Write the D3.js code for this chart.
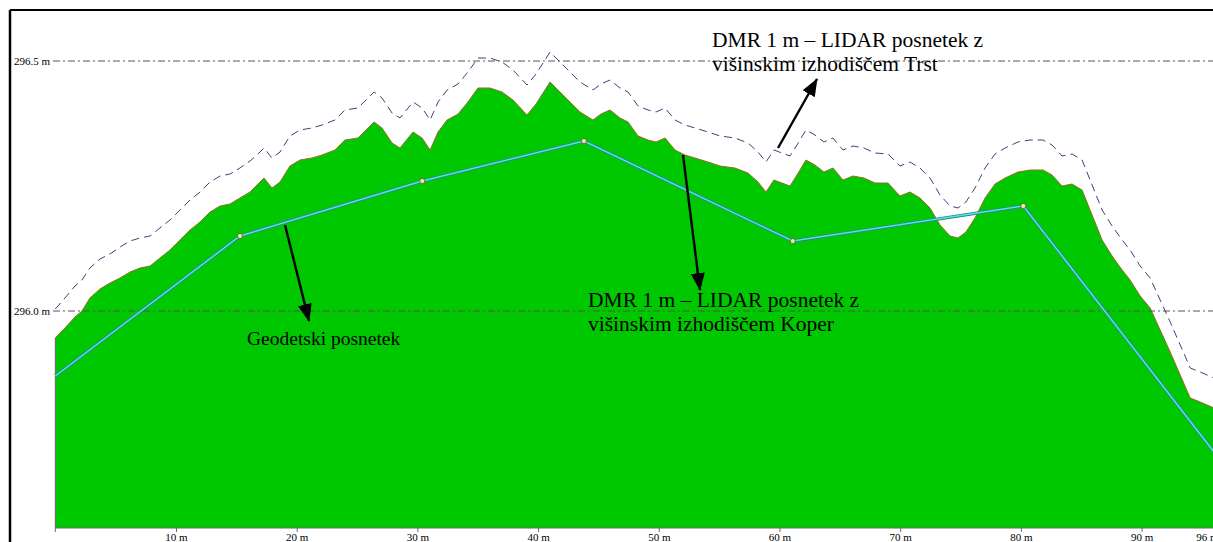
<!DOCTYPE html>
<html>
<head>
<meta charset="utf-8">
<script src="https://cdn.jsdelivr.net/npm/d3@7"></script>
<style>
  html, body { margin: 0; padding: 0; background: #fff; }
  svg { display: block; }
</style>
</head>
<body>
<script>
// Profile distances (m) and elevations (m)
const distance = [0, 0.80, 1.63, 2.21, 2.87, 3.70, 4.53, 5.36, 6.19, 7.02, 7.85, 8.67, 9.50, 10.33, 11.16, 11.99, 12.82, 13.65, 14.47, 15.30, 16.13, 16.79, 17.29, 17.95, 18.62, 19.44, 20.27, 21.27, 22.10, 23.17, 24.00, 25.08, 25.91, 26.41, 27.07, 27.90, 28.56, 29.64, 30.39, 31.05, 31.71, 32.46, 33.37, 34.19, 35.02, 36.02, 37.01, 37.92, 39.08, 39.83, 40.99, 42.06, 42.81, 43.47, 44.55, 45.21, 45.96, 46.79, 47.45, 48.28, 49.11, 49.77, 50.52, 51.34, 52.17, 53.00, 54.08, 55.07, 56.31, 57.39, 58.22, 58.88, 59.54, 60.20, 60.87, 61.45, 62.19, 62.94, 63.68, 64.43, 65.26, 66.09, 67.00, 67.91, 68.99, 69.98, 70.81, 71.64, 72.47, 73.30, 74.13, 74.79, 75.45, 76.20, 77.03, 77.86, 78.69, 79.76, 80.76, 81.84, 82.58, 83.41, 84.24, 85.07, 85.90, 86.73, 87.56, 88.39, 89.05, 89.88, 90.71, 91.54, 92.37, 93.20, 94.03, 94.86, 96];

// DMR 1 m – LIDAR, height datum Koper
const lidarKoper = [295.946, 295.966, 295.988, 296.000, 296.026, 296.044, 296.056, 296.066, 296.078, 296.086, 296.090, 296.106, 296.122, 296.142, 296.162, 296.178, 296.198, 296.210, 296.214, 296.226, 296.238, 296.254, 296.266, 296.246, 296.258, 296.290, 296.302, 296.306, 296.312, 296.322, 296.342, 296.346, 296.366, 296.378, 296.366, 296.336, 296.326, 296.358, 296.346, 296.322, 296.358, 296.382, 296.394, 296.418, 296.446, 296.446, 296.438, 296.422, 296.392, 296.414, 296.458, 296.432, 296.414, 296.398, 296.382, 296.394, 296.402, 296.386, 296.378, 296.350, 296.342, 296.338, 296.346, 296.322, 296.312, 296.306, 296.298, 296.290, 296.286, 296.276, 296.258, 296.238, 296.262, 296.256, 296.250, 296.272, 296.302, 296.292, 296.278, 296.286, 296.262, 296.270, 296.266, 296.256, 296.256, 296.230, 296.238, 296.226, 296.206, 296.172, 296.150, 296.146, 296.158, 296.186, 296.226, 296.254, 296.266, 296.278, 296.282, 296.282, 296.272, 296.250, 296.254, 296.242, 296.192, 296.142, 296.110, 296.082, 296.062, 296.030, 296.006, 295.962, 295.918, 295.872, 295.826, 295.818, 295.806];

// DMR 1 m – LIDAR, height datum Trst
const lidarTrst = [296.004, 296.026, 296.050, 296.062, 296.086, 296.104, 296.114, 296.128, 296.140, 296.146, 296.150, 296.166, 296.182, 296.202, 296.222, 296.238, 296.258, 296.270, 296.274, 296.286, 296.300, 296.314, 296.326, 296.306, 296.318, 296.350, 296.362, 296.366, 296.372, 296.382, 296.402, 296.406, 296.426, 296.438, 296.426, 296.396, 296.386, 296.418, 296.406, 296.382, 296.418, 296.442, 296.454, 296.478, 296.506, 296.506, 296.498, 296.482, 296.452, 296.474, 296.518, 296.492, 296.474, 296.458, 296.442, 296.454, 296.462, 296.446, 296.438, 296.410, 296.402, 296.398, 296.406, 296.382, 296.372, 296.366, 296.358, 296.350, 296.346, 296.336, 296.318, 296.298, 296.322, 296.316, 296.310, 296.332, 296.362, 296.352, 296.338, 296.346, 296.322, 296.330, 296.326, 296.316, 296.314, 296.290, 296.298, 296.286, 296.266, 296.232, 296.210, 296.206, 296.218, 296.246, 296.286, 296.314, 296.326, 296.338, 296.342, 296.342, 296.332, 296.310, 296.314, 296.302, 296.252, 296.202, 296.170, 296.142, 296.122, 296.090, 296.066, 296.022, 295.978, 295.932, 295.886, 295.878, 295.866];

// Geodetic survey points
const geoDistance = [0, 15.3, 30.4, 43.8, 61.1, 80.2, 96];
const geoElevation = [295.870, 296.150, 296.260, 296.340, 296.140, 296.210, 295.718];

const xTicks = [10, 20, 30, 40, 50, 60, 70, 80, 90, 96];
const yGrid = [296.0, 296.5];

const W = 1213, H = 542;
const svg = d3.select("body").append("svg").attr("width", W).attr("height", H);

const x = d3.scaleLinear().domain([0, 96]).range([55.3, 1214]);
const y = d3.scaleLinear().domain([296.0, 296.5]).range([311, 61]);
const yBase = 528;

const serif = "'Liberation Serif', 'Times New Roman', serif";

// frame
svg.append("line").attr("x1", 10).attr("x2", 10).attr("y1", 10).attr("y2", H)
  .attr("stroke", "#000").attr("stroke-width", 2.5);
svg.append("line").attr("x1", 10).attr("x2", W).attr("y1", 10).attr("y2", 10)
  .attr("stroke", "#000").attr("stroke-width", 2);

const koper = distance.map((d, i) => ({ d, e: lidarKoper[i] }));
const trst = distance.map((d, i) => ({ d, e: lidarTrst[i] }));
const geo = geoDistance.map((d, i) => ({ d, e: geoElevation[i] }));

// terrain fill
svg.append("path")
  .datum(koper)
  .attr("d", d3.area().x(p => x(p.d)).y0(yBase).y1(p => y(p.e)))
  .attr("fill", "#00c800");
svg.append("path")
  .datum(koper)
  .attr("d", d3.line().x(p => x(p.d)).y(p => y(p.e)))
  .attr("fill", "none").attr("stroke", "#9a6a2a").attr("stroke-width", 1);
// left edge of the fill
svg.append("line")
  .attr("x1", x(0)).attr("x2", x(0)).attr("y1", y(lidarKoper[0])).attr("y2", yBase)
  .attr("stroke", "#6a6a6a").attr("stroke-width", 1);

// dash-dot grid lines with labels
yGrid.forEach(v => {
  svg.append("line")
    .attr("x1", 53).attr("x2", W).attr("y1", y(v)).attr("y2", y(v))
    .attr("stroke", "#555").attr("stroke-width", 1)
    .attr("stroke-dasharray", "7,3,2,3");
  svg.append("text")
    .attr("x", 50).attr("y", y(v) + 4)
    .attr("text-anchor", "end")
    .attr("font-family", serif).attr("font-size", 11)
    .attr("fill", "#000")
    .text(d3.format(".1f")(v) + " m");
});

// LIDAR (Trst) dashed profile
svg.append("path")
  .datum(trst)
  .attr("d", d3.line().x(p => x(p.d)).y(p => y(p.e)))
  .attr("fill", "none").attr("stroke", "#40407a").attr("stroke-width", 1)
  .attr("stroke-dasharray", "8,5");

// geodetic profile
const geoLine = d3.line().x(p => x(p.d)).y(p => y(p.e));
svg.append("path").datum(geo).attr("d", geoLine)
  .attr("fill", "none").attr("stroke", "#2a8790").attr("stroke-width", 3.2);
svg.append("path").datum(geo).attr("d", geoLine)
  .attr("fill", "none").attr("stroke", "#50e6dc").attr("stroke-width", 1.5);
svg.selectAll("circle.pt").data(geo.slice(1, -1)).enter().append("circle")
  .attr("class", "pt")
  .attr("cx", p => x(p.d)).attr("cy", p => y(p.e)).attr("r", 2.6)
  .attr("fill", "#e6ee90").attr("stroke", "#4a5a4a").attr("stroke-width", 0.8);

// x axis
const xAxis = d3.axisBottom(x).tickValues(xTicks).tickSize(4).tickFormat(d => d + " m");
const ax = svg.append("g").attr("transform", `translate(0,${yBase})`).call(xAxis);
ax.select(".domain").attr("stroke", "#6a6a6a").attr("d", `M${x(0)},4V0H${W}`);
ax.selectAll(".tick line").attr("stroke", "#6a6a6a");
ax.selectAll(".tick text").attr("font-family", serif).attr("font-size", 11)
  .attr("fill", "#000").attr("y", 5)
  .attr("dx", d => d === 96 ? -7 : 0);

// annotations
const defs = svg.append("defs");
defs.append("marker").attr("id", "head")
  .attr("viewBox", "0 0 18 14").attr("refX", 17).attr("refY", 7)
  .attr("markerWidth", 18).attr("markerHeight", 14).attr("markerUnits", "userSpaceOnUse")
  .attr("orient", "auto")
  .append("path").attr("d", "M0,0L18,7L0,14Z").attr("fill", "#000");

const arrows = [
  { x1: 285, y1: 225, x2: 309, y2: 321 },
  { x1: 683, y1: 155, x2: 700, y2: 290 },
  { x1: 778, y1: 148, x2: 817, y2: 79 }
];
arrows.forEach(a => {
  svg.append("line").attr("x1", a.x1).attr("y1", a.y1).attr("x2", a.x2).attr("y2", a.y2)
    .attr("stroke", "#000").attr("stroke-width", 2.4).attr("marker-end", "url(#head)");
});

const labels = [
  { x: 247, y: 345, size: 19.5, lines: ["Geodetski posnetek"] },
  { x: 588, y: 307, size: 21.5, lines: ["DMR 1 m – LIDAR posnetek z", "višinskim izhodiščem Koper"] },
  { x: 712, y: 47, size: 21.5, lines: ["DMR 1 m – LIDAR posnetek z", "višinskim izhodiščem Trst"] }
];
labels.forEach(l => {
  const t = svg.append("text").attr("font-family", serif).attr("font-size", l.size).attr("fill", "#000");
  l.lines.forEach((s, i) => {
    t.append("tspan").attr("x", l.x).attr("y", l.y + i * 24).text(s);
  });
});
</script>
</body>
</html>
